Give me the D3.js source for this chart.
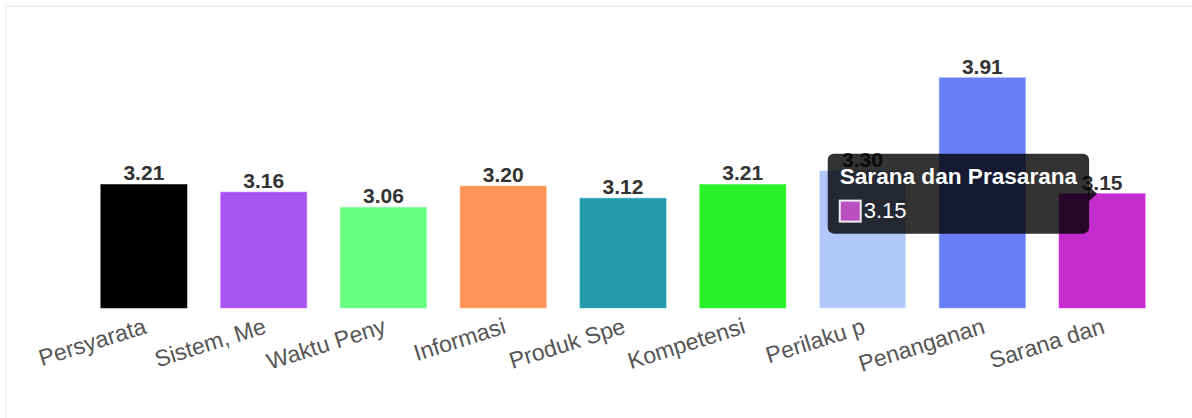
<!DOCTYPE html>
<html>
<head>
    <title>Nilai per Unsur Pelayanan</title>
    <style>
        body {
            margin: 0;
            background-color: #fff;
            font-family: "Liberation Sans", Arial, sans-serif;
        }
        .card {
            position: absolute;
            left: 5px;
            top: 5px;
            width: 1187px;
            height: 413px;
            border-top: 2px solid #f1f1f1;
            border-left: 2px solid #f4f4f4;
            box-sizing: border-box;
        }
        #chart {
            position: absolute;
            left: 0;
            top: 0;
        }
        .tick-label {
            font-size: 23px;
            fill: #555;
        }
        .value-label {
            font-size: 21px;
            font-weight: bold;
            fill: #333;
            text-anchor: middle;
        }
    </style>
</head>
<body>
    <div class="card"></div>
    <svg id="chart"></svg>

    <script src="https://cdnjs.cloudflare.com/ajax/libs/d3/7.8.5/d3.min.js"></script>
    <script>
        // Data
        const labels = ['Persyarata', 'Sistem, Me', 'Waktu Peny', 'Informasi', 'Produk Spe',
                        'Kompetensi', 'Perilaku p', 'Penanganan', 'Sarana dan'];
        const values = [3.21, 3.16, 3.06, 3.20, 3.12, 3.21, 3.30, 3.91, 3.15];
        const colors = ['#000000', '#a855f0', '#66ff80', '#fc945a', '#2599ac',
                        '#2af02a', '#b2c8fc', '#6a7ef5', '#c52ccd'];
        const yDomain = [2.4, 4.0];

        // tooltip shown on the last bar
        const tooltipIndex = 8;
        const tooltipTitle = 'Sarana dan Prasarana';

        const W = 1192, H = 418;
        const plot = {left: 84, right: 1162, top: 64, bottom: 308};

        const svg = d3.select('#chart')
            .attr('width', W)
            .attr('height', H);

        const x = d3.scaleBand()
            .domain(labels)
            .range([plot.left, plot.right])
            .paddingInner(0.28)
            .paddingOuter(0.14);

        const y = d3.scaleLinear()
            .domain(yDomain)
            .range([plot.bottom, plot.top]);

        const data = labels.map((l, i) => ({label: l, value: values[i], color: colors[i]}));

        // bars
        svg.append('g')
            .selectAll('rect')
            .data(data)
            .join('rect')
            .attr('x', d => x(d.label))
            .attr('y', d => y(d.value))
            .attr('width', x.bandwidth())
            .attr('height', d => plot.bottom - y(d.value))
            .attr('fill', d => d.color)
            .attr('stroke', d => d3.color(d.color).brighter(0.6))
            .attr('stroke-opacity', 0.5)
            .attr('stroke-width', 1);

        // value labels above bars
        svg.append('g')
            .selectAll('text')
            .data(data)
            .join('text')
            .attr('class', 'value-label')
            .attr('x', d => x(d.label) + x.bandwidth() / 2)
            .attr('y', d => y(d.value) - 4)
            .text(d => d.value.toFixed(2));

        // x axis labels (rotated, no axis line)
        const xAxis = d3.axisBottom(x).tickSize(0).tickPadding(0);
        const axisG = svg.append('g')
            .attr('transform', `translate(0,${plot.bottom})`)
            .call(xAxis);
        axisG.select('.domain').remove();
        axisG.selectAll('.tick text')
            .attr('class', 'tick-label')
            .attr('fill', null)
            .attr('font-family', null)
            .attr('font-size', null)
            .attr('text-anchor', 'end')
            .attr('dy', null)
            .attr('y', 0)
            .attr('dominant-baseline', 'middle')
            .attr('transform', 'translate(2,19) rotate(-17.5)');

        // tooltip
        const tipD = data[tooltipIndex];
        const tipX = x(tipD.label) + x.bandwidth() / 2 - 5;
        const tipY = y(tipD.value);
        const caret = 8;

        const tip = svg.append('g');
        const tipBox = tip.append('rect').attr('fill', 'rgba(0,0,0,0.8)').attr('rx', 6);
        const tipCaret = tip.append('path').attr('fill', 'rgba(0,0,0,0.8)');
        const titleText = tip.append('text')
            .attr('fill', '#fff')
            .attr('font-weight', 'bold')
            .attr('font-size', 22.6)
            .text(tooltipTitle);
        const bodyText = tip.append('text')
            .attr('fill', '#fff')
            .attr('font-size', 22)
            .text(tipD.value.toFixed(2));

        const titleW = titleText.node().getComputedTextLength();
        const boxW = titleW + 24;
        const boxH = 80;
        const boxR = tipX - caret;
        const boxL = boxR - boxW;
        const boxT = tipY - boxH / 2;

        tipBox.attr('x', boxL).attr('y', boxT).attr('width', boxW).attr('height', boxH);
        tipCaret.attr('d', `M${boxR - 1},${tipY - caret}L${tipX},${tipY}L${boxR - 1},${tipY + caret}Z`);
        titleText.attr('x', boxL + 12).attr('y', boxT + 30);
        // legend swatch is a softened version of the bar colour
        tip.append('rect')
            .attr('x', boxL + 12)
            .attr('y', boxT + 47)
            .attr('width', 21)
            .attr('height', 21)
            .attr('fill', d3.interpolateRgb(tipD.color, '#a0a0a0')(0.3))
            .attr('stroke', '#eee')
            .attr('stroke-width', 2);
        bodyText.attr('x', boxL + 36).attr('y', boxT + 64);
    </script>
</body>
</html>
